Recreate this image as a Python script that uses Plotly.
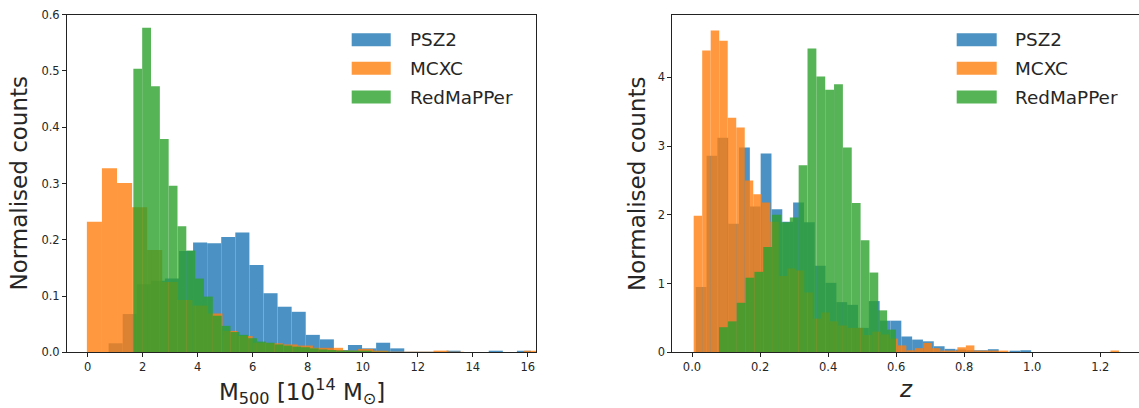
import plotly.graph_objects as go

# ---------------- data ----------------
series_names = ["PSZ2", "MCXC", "RedMaPPer"]
series_colors = ["#1f77b4", "#ff7f0e", "#2ca02c"]

# Left panel: M500 [1e14 Msun], normalised histograms (bin start, bin width, densities)
mass_psz2_start, mass_psz2_width = 0.76, 0.512
mass_psz2 = [0.016, 0.068, 0.121, 0.127, 0.131, 0.180, 0.195, 0.194, 0.205, 0.213,
             0.155, 0.105, 0.081, 0.072, 0.031, 0.023, 0.004, 0.013, 0.007, 0.017,
             0.007, 0.001, 0.001, 0.001, 0.002, 0.0, 0.0, 0.002, 0.0, 0.002]

mass_mcxc_start, mass_mcxc_width = -0.03, 0.548
mass_mcxc = [0.232, 0.327, 0.301, 0.258, 0.182, 0.125, 0.093, 0.083, 0.069, 0.038,
             0.029, 0.017, 0.016, 0.014, 0.012, 0.008, 0.008, 0.003, 0.006, 0.002,
             0.001, 0.001, 0.001, 0.003, 0.001, 0.0, 0.0, 0.0, 0.0, 0.002]

mass_redmapper_start, mass_redmapper_width = 1.66, 0.321
mass_redmapper = [0.504, 0.577, 0.473, 0.379, 0.296, 0.224, 0.181, 0.131, 0.099, 0.065,
                  0.047, 0.036, 0.031, 0.025, 0.019, 0.017, 0.014, 0.012, 0.010, 0.009,
                  0.007, 0.005, 0.004, 0.003, 0.003, 0.002, 0.002, 0.001, 0.001]

# Right panel: redshift z
z_psz2_start, z_psz2_width = 0.011, 0.0318
z_psz2 = [0.95, 2.86, 3.12, 1.87, 2.98, 2.12, 2.89, 2.08, 1.90, 2.18,
          1.89, 1.26, 1.01, 0.73, 0.69, 0.355, 0.745, 0.46, 0.46, 0.23,
          0.185, 0.16, 0.088, 0.05, 0.04, 0.03, 0.03, 0.045, 0.0, 0.015, 0.03]

z_mcxc_start, z_mcxc_width = 0.005, 0.025
z_mcxc = [1.985, 4.39, 4.68, 4.53, 3.41, 3.27, 2.50, 2.30, 2.18, 1.90,
          1.11, 1.22, 1.19, 0.87, 0.49, 0.58, 0.45, 0.39, 0.355, 0.355,
          0.25, 0.30, 0.26, 0.20, 0.10, 0.03, 0.06, 0.136, 0.06, 0.025,
          0.025, 0.073, 0.10, 0.025, 0.025, 0.025, 0.025, 0.0, 0.0, 0.0,
          0.0, 0.0, 0.0, 0.0, 0.0, 0.0, 0.0, 0.0, 0.0, 0.025]

z_redmapper_start, z_redmapper_width = 0.0795, 0.026
z_redmapper = [0.365, 0.45, 0.72, 1.085, 1.17, 1.53, 2.0, 1.89, 1.96, 2.72,
               4.42, 4.01, 3.82, 3.90, 2.98, 2.17, 1.63, 1.16, 0.61, 0.33]

mass_xticks = [0, 2, 4, 6, 8, 10, 12, 14, 16]
mass_yticks = [0.0, 0.1, 0.2, 0.3, 0.4, 0.5, 0.6]
z_xticks = [0.0, 0.2, 0.4, 0.6, 0.8, 1.0, 1.2]
z_yticks = [0, 1, 2, 3, 4]

# ---------------- figure ----------------
W, H = 1139, 408
TXT = "#262626"
FONT = "DejaVu Sans"


def hist_trace(start, width, values, color, xa, ya):
    centers = [start + width * (i + 0.5) for i in range(len(values))]
    return go.Bar(x=centers, y=values, width=width,
                  marker=dict(color=color, line=dict(width=0)),
                  opacity=0.8, xaxis=xa, yaxis=ya,
                  showlegend=False, hoverinfo="skip")


fig = go.Figure()
left = [(mass_psz2_start, mass_psz2_width, mass_psz2),
        (mass_mcxc_start, mass_mcxc_width, mass_mcxc),
        (mass_redmapper_start, mass_redmapper_width, mass_redmapper)]
right = [(z_psz2_start, z_psz2_width, z_psz2),
         (z_mcxc_start, z_mcxc_width, z_mcxc),
         (z_redmapper_start, z_redmapper_width, z_redmapper)]
for (s, w, v), c in zip(left, series_colors):
    fig.add_trace(hist_trace(s, w, v, c, "x", "y"))
for (s, w, v), c in zip(right, series_colors):
    fig.add_trace(hist_trace(s, w, v, c, "x2", "y2"))

# pixel geometry of the two axes boxes
L0, L1 = 67.0, 536.3
R0, R1 = 672.3, 1139.0
T, B = 14.7, 352.3
ydom = [1 - B / H, 1 - T / H]

axis_common = dict(showgrid=False, zeroline=False, showline=True, linecolor="#222",
                   linewidth=1, ticks="outside", ticklen=4, tickwidth=1, tickcolor="#222",
                   automargin=False,
                   tickfont=dict(family=FONT, size=11.5, color=TXT))

fig.update_layout(
    template="none",
    width=W, height=H, autosize=False, margin=dict(l=0, r=0, t=0, b=0, pad=0),
    paper_bgcolor="white", plot_bgcolor="white", barmode="overlay", showlegend=False,
    font=dict(family=FONT, color=TXT),
    xaxis=dict(domain=[L0 / W, L1 / W], range=[-0.753, 16.313], anchor="y",
               tickvals=mass_xticks, ticktext=[str(t) for t in mass_xticks],
               mirror=True, **axis_common),
    yaxis=dict(domain=ydom, range=[0, 0.6], anchor="x",
               tickvals=mass_yticks, ticktext=[f"{t:.1f}" for t in mass_yticks],
               mirror=True, **axis_common),
    xaxis2=dict(domain=[R0 / W, R1 / W], range=[-0.0579, 1.3138], anchor="y2",
                tickvals=z_xticks, ticktext=[f"{t:.1f}" for t in z_xticks],
                mirror=True, **axis_common),
    yaxis2=dict(domain=ydom, range=[0, 4.91], anchor="x2",
                tickvals=z_yticks, ticktext=[str(t) for t in z_yticks],
                mirror=False, **axis_common),
)

annotations = []
# axis titles
annotations.append(dict(text="M<sub>500</sub> [10<sup>14</sup> M<sub>⊙</sub>]",
                        x=(L0 + L1) / 2 / W, y=1 - 391 / H, xref="paper", yref="paper",
                        xanchor="center", yanchor="middle", showarrow=False,
                        font=dict(family=FONT, size=23, color=TXT)))
annotations.append(dict(text="<i>z</i>", x=906 / W, y=1 - 389 / H, xref="paper", yref="paper",
                        xanchor="center", yanchor="middle", showarrow=False,
                        font=dict(family=FONT, size=23, color=TXT)))
for xc in (19.0, 637.5):
    annotations.append(dict(text="Normalised counts", x=xc / W, y=1 - 183.5 / H,
                            xref="paper", yref="paper", xanchor="center", yanchor="middle",
                            textangle=-90, showarrow=False,
                            font=dict(family=FONT, size=23, color=TXT)))

# legends (patch + label) inside each panel
shapes = []
row_y = [39.7, 68.3, 97.0]
patch_h = 13.0


def rgba(hexc, a):
    h = hexc.lstrip("#")
    return f"rgba({int(h[0:2], 16)},{int(h[2:4], 16)},{int(h[4:6], 16)},{a})"


for (ax0, ax1, px0, px1, ptxt, xr, yr) in [
        (L0, L1, 351.7, 390.7, 408.3, "x domain", "y domain"),
        (R0, R1, 956.7, 996.7, 1013.3, "x2 domain", "y2 domain")]:
    wdt = ax1 - ax0
    for name, col, py in zip(series_names, series_colors, row_y):
        yc = (B - py) / (B - T)
        hh = patch_h / 2 / (B - T)
        shapes.append(dict(type="rect", xref=xr, yref=yr,
                           x0=(px0 - ax0) / wdt, x1=(px1 - ax0) / wdt,
                           y0=yc - hh, y1=yc + hh,
                           fillcolor=rgba(col, 0.8), line=dict(width=0)))
        annotations.append(dict(text=name, xref=xr, yref=yr,
                                x=(ptxt - ax0) / wdt, y=yc, xanchor="left", yanchor="middle",
                                showarrow=False,
                                font=dict(family=FONT, size=18.4, color=TXT)))

fig.update_layout(annotations=annotations, shapes=shapes)

fig.write_html("out.html",
               config={"displayModeBar": False, "responsive": False},
               post_script="document.body.style.margin='0';document.body.style.padding='0';"
                           "document.body.style.overflow='hidden';")
